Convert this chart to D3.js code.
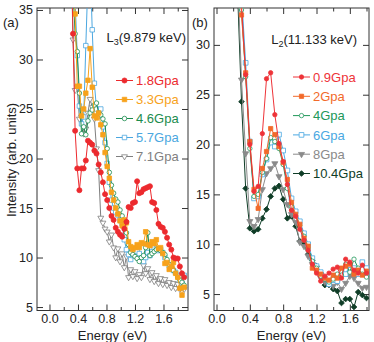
<!DOCTYPE html>
<html>
<head>
<meta charset="utf-8">
<script src="https://cdnjs.cloudflare.com/ajax/libs/d3/7.8.5/d3.min.js"></script>
<style>
body { margin: 0; background: #fff; }
svg { font-family: "Liberation Sans", Arial, sans-serif; }
</style>
</head>
<body>
<div id="chart"></div>
<script>
// panel (a) : L3 edge
var energyA = [0.30,0.33,0.36,0.39,0.42,0.45,0.48,0.51,0.54,0.57,0.60,0.63,0.66,0.69,0.72,0.75,0.78,0.81,0.84,0.87,
               0.90,0.93,0.96,0.99,1.02,1.05,1.08,1.11,1.14,1.17,1.20,1.23,1.26,1.29,1.32,1.35,1.38,1.41,1.44,1.47,
               1.50,1.53,1.56,1.59,1.62,1.65,1.68,1.71,1.74,1.77,1.80,1.83,1.86,1.89];
var gpa18 = [44,32.6,22.8,19.0,16.8,19.0,19.0,19.8,21.8,21.6,21.4,20.8,20.5,19.4,18.6,17.6,16.4,15.8,15.0,14.2,
             13.8,13.0,12.6,12.3,12.1,12.9,13.6,15.1,15.0,15.5,15.6,17.7,16.5,16.6,16.9,17.0,17.1,17.2,15.6,15.5,
             14.8,13.4,13.1,13.0,12.6,12.0,11.3,10.8,10.0,9.9,9.9,9.1,8.4,8.0];
var gpa33 = [48,40,34.6,27.3,27.3,24.3,25.0,26.6,27.9,31.1,27.2,24.3,24.1,24.6,23.4,22.4,20.6,19.2,18.0,16.6,
             15.8,15.0,14.4,13.7,13.2,13.8,13.5,11.6,11.1,10.8,11.0,11.3,11.0,11.5,11.4,12.6,11.3,11.2,11.6,11.4,
             11.8,10.9,11.0,10.4,9.4,9.5,8.8,9.1,9.5,8.4,8.0,6.9,6.2,7.0];
var gpa46 = [45,37,32.6,30.8,26.6,22.5,23.2,22.4,23.8,24.6,24.9,25.4,25.6,24.6,24.4,24.0,23.5,21.0,18.6,17.3,
             16.5,15.9,15.6,14.8,14.2,13.6,12.5,11.3,10.5,10.3,10.1,9.9,9.6,10.0,10.2,11.0,12.5,10.2,10.4,10.6,
             10.8,10.9,10.7,10.5,10.3,9.8,9.3,9.0,8.7,8.4,8.0,7.7,7.5,7.2];
var gpa57 = [50,42,36,30.4,25.3,23.5,24.2,31.4,38,40,33.0,27.6,25.0,24.3,25.0,23.2,21.6,19.5,17.6,15.8,
             15.0,14.6,14.3,13.8,13.4,11.8,10.8,10.3,9.8,10.2,10.5,10.6,10.4,9.9,9.6,10.0,10.5,10.2,10.6,11.0,
             10.9,10.7,10.8,10.5,10.0,9.5,9.2,8.9,8.7,8.5,8.2,8.0,7.4,8.2];
var gpa71 = [42,32,26.9,27.2,24.0,24.2,22.5,23.0,24.6,26.0,25.2,24.0,21.0,18.8,14.0,13.5,12.9,12.6,11.6,12.3,
             11.0,10.0,10.9,9.6,10.4,9.0,10.1,8.0,8.8,8.1,8.6,7.9,8.3,8.0,9.2,8.4,8.9,7.8,8.5,7.6,
             8.2,7.4,7.9,7.3,7.8,7.2,7.5,7.0,7.4,6.9,7.3,6.8,7.0,6.8];
var labelsA = ['1.8Gpa','3.3Gpa','4.6Gpa','5.7Gpa','7.1Gpa'];

// panel (b) : L2 edge
var energyB = [0.25,0.30,0.35,0.40,0.45,0.50,0.55,0.60,0.65,0.70,0.75,0.80,0.85,0.90,0.95,1.00,
               1.05,1.10,1.15,1.20,1.25,1.30,1.35,1.40,1.45,1.50,1.55,1.60,1.65,1.70,1.75,1.80];
var gpa09 = [42,34,27,20,15.3,15.8,21.1,26.6,27.2,23.0,20.1,18.3,16.0,13.4,12.8,11.5,
             10.4,9.4,8.0,7.1,6.3,6.8,7.1,7.5,7.7,6.6,8.5,8.2,7.4,7.1,7.9,7.1];
var gpa2 = [40,33,27.2,20.3,15.5,13.6,17.6,19.3,21.6,21.0,19.8,18.2,16.5,14.2,13.0,12.0,
            10.6,9.8,7.6,7.4,7.0,6.6,6.4,6.9,6.6,7.6,7.8,8.0,7.0,7.4,6.9,7.3];
var gpa4 = [41,33.5,26.8,19.6,14.8,15.0,17.2,18.6,20.7,20.3,19.6,18.0,15.6,13.8,12.9,11.9,
            10.8,9.6,8.3,7.6,6.8,6.5,6.2,6.5,7.0,6.9,8.0,7.2,8.5,7.6,7.0,6.7];
var gpa6 = [43,35,28.2,20.3,14.6,14.8,17.0,18.5,20.2,19.8,21.0,19.4,17.4,14.6,13.3,12.3,
            11.1,10.0,8.6,7.8,7.2,6.6,6.0,6.4,6.3,7.3,7.0,7.9,7.6,7.0,8.2,7.6];
var gpa8 = [38,26.5,19.1,12.3,11.8,12.5,15.5,17.1,17.6,18.1,16.8,15.5,14.0,13.0,12.2,10.2,
            9.8,8.8,8.0,7.3,6.6,6.2,6.0,5.8,6.2,5.5,6.1,6.8,6.6,6.1,5.6,5.7];
var gpa104 = [36,24.3,15.6,11.6,11.3,11.5,12.6,13.5,14.8,15.6,15.85,14.5,12.6,12.8,11.8,10.3,
              10.0,9.0,8.4,7.8,7.1,5.9,5.9,5.5,5.3,4.1,4.5,4.5,3.7,5.2,4.9,4.6];
var labelsB = ['0.9Gpa','2Gpa','4Gpa','6Gpa','8Gpa','10.4Gpa'];

var xTicks = [0, 0.4, 0.8, 1.2, 1.6];
var xMinorTicks = [0.2, 0.6, 1.0, 1.4, 1.8];
var yTicks = [5, 10, 15, 20, 25, 30, 35];

var svg = d3.select('#chart').append('svg')
            .attr('width', 374)
            .attr('height', 342);

var symbolType = {circle: d3.symbolCircle, square: d3.symbolSquare, triangle: d3.symbolTriangle, diamond: d3.symbolSquare};
var symbolTurn = {circle: 0, square: 0, triangle: 180, diamond: 45};

var drawMarker = function(g, s, x, y){
    g.append('path')
        .attr('d', d3.symbol().type(symbolType[s.shape]).size(s.size)())
        .attr('transform', 'translate(' + x + ',' + y + ') rotate(' + symbolTurn[s.shape] + ')')
        .attr('fill', s.filled ? s.color : '#fff')
        .attr('stroke', s.color)
        .attr('stroke-width', 0.8);
};

var drawPanel = function(p){
    var x = d3.scaleLinear().domain(p.xDomain).range([p.left, p.right]);
    var y = d3.scaleLinear().domain(p.yDomain).range([p.bottom, p.top]);
    var g = svg.append('g');

    g.append('clipPath').attr('id', 'clip' + p.id)
        .append('rect')
        .attr('x', p.left).attr('y', p.top)
        .attr('width', p.right - p.left).attr('height', p.bottom - p.top);

    // axes, ticks pointing inside
    var mk = function(axis, tr, vals, size, fmt){
        var a = g.append('g').attr('transform', tr)
            .call(axis.tickValues(vals).tickSize(size).tickPadding(4).tickFormat(fmt));
        a.select('.domain').remove();
        a.selectAll('line').attr('stroke', '#333');
        a.selectAll('text').attr('font-size', 12.5).attr('fill', '#222').attr('font-family', '"Liberation Sans", Arial, sans-serif');
        return a;
    };
    var f1 = d3.format('.1f');
    var minor = xMinorTicks.filter(function(v){ return v <= p.xDomain[1]; });
    mk(d3.axisBottom(x), 'translate(0,' + p.bottom + ')', xTicks, -6, f1);
    mk(d3.axisBottom(x), 'translate(0,' + p.bottom + ')', minor, -3.5, '');
    mk(d3.axisTop(x), 'translate(0,' + p.top + ')', xTicks, -6, '');
    mk(d3.axisTop(x), 'translate(0,' + p.top + ')', minor, -3.5, '');
    var yt = yTicks.filter(function(v){ return v <= p.yDomain[1]; });
    mk(d3.axisLeft(y), 'translate(' + p.left + ',0)', yt, -6, d3.format('d'));
    mk(d3.axisRight(y), 'translate(' + p.right + ',0)', yt, -6, '');

    g.append('rect')
        .attr('x', p.left).attr('y', p.top)
        .attr('width', p.right - p.left).attr('height', p.bottom - p.top)
        .attr('fill', 'none').attr('stroke', '#333').attr('stroke-width', 1);

    var plot = g.append('g').attr('clip-path', 'url(#clip' + p.id + ')');
    var line = d3.line().x(function(d){ return x(d[0]); }).y(function(d){ return y(d[1]); });

    p.series.slice().reverse().forEach(function(s){
        var pts = p.energy.map(function(e, i){ return [e, s.values[i]]; });
        var sg = plot.append('g');
        sg.append('path').datum(pts)
            .attr('d', line)
            .attr('fill', 'none')
            .attr('stroke', s.color)
            .attr('stroke-width', 1);
        pts.forEach(function(d){ drawMarker(sg, s, x(d[0]), y(d[1])); });
    });

    // legend
    p.series.forEach(function(s, i){
        var ly = p.legendY + i * p.legendStep;
        g.append('line')
            .attr('x1', p.legendX).attr('x2', p.legendX + 17)
            .attr('y1', ly).attr('y2', ly)
            .attr('stroke', s.color).attr('stroke-width', 1);
        drawMarker(g, s, p.legendX + 8.5, ly);
        g.append('text')
            .attr('x', p.legendX + 20).attr('y', ly + 4.6)
            .attr('font-size', 13)
            .attr('fill', s.color)
            .text(s.name);
    });

    // edge label
    var t = g.append('text')
        .attr('x', p.edgeX).attr('y', p.edgeY)
        .attr('text-anchor', 'end')
        .attr('font-size', 13)
        .attr('fill', '#222');
    t.append('tspan').text('L');
    t.append('tspan').attr('font-size', 9).attr('dy', 3).text(p.edgeSub);
    t.append('tspan').attr('dy', -3).text(p.edgeText);

    g.append('text')
        .attr('x', p.tagX).attr('y', 27)
        .attr('font-size', 13).attr('fill', '#222')
        .text(p.tag);

    g.append('text')
        .attr('x', (p.left + p.right) / 2).attr('y', 339.5)
        .attr('text-anchor', 'middle')
        .attr('font-size', 13).attr('fill', '#222')
        .text('Energy (eV)');
};

drawPanel({
    id: 'a', left: 37, right: 188, top: 8, bottom: 310.5,
    xDomain: [-0.175, 1.944], yDomain: [4.65, 35.2],
    energy: energyA,
    series: [
        {name: labelsA[0], values: gpa18, color: '#ec2a2e', shape: 'circle', filled: true, size: 20},
        {name: labelsA[1], values: gpa33, color: '#f7a21b', shape: 'square', filled: true, size: 20},
        {name: labelsA[2], values: gpa46, color: '#1b8c4e', shape: 'circle', filled: false, size: 16},
        {name: labelsA[3], values: gpa57, color: '#4ba7e0', shape: 'square', filled: false, size: 20},
        {name: labelsA[4], values: gpa71, color: '#7f7f7f', shape: 'triangle', filled: false, size: 15}
    ],
    legendX: 116, legendY: 80.5, legendStep: 19,
    edgeX: 186, edgeY: 42, edgeSub: '3', edgeText: '(9.879 keV)',
    tag: '(a)', tagX: 3
});

drawPanel({
    id: 'b', left: 214, right: 369, top: 8, bottom: 310.5,
    xDomain: [-0.03, 1.83], yDomain: [3.35, 33.7],
    energy: energyB,
    series: [
        {name: labelsB[0], values: gpa09, color: '#ee3338', shape: 'circle', filled: true, size: 15},
        {name: labelsB[1], values: gpa2, color: '#f26a2a', shape: 'square', filled: true, size: 18},
        {name: labelsB[2], values: gpa4, color: '#21985a', shape: 'circle', filled: false, size: 15},
        {name: labelsB[3], values: gpa6, color: '#4aa8e2', shape: 'square', filled: false, size: 22},
        {name: labelsB[4], values: gpa8, color: '#8a8a8a', shape: 'triangle', filled: true, size: 16},
        {name: labelsB[5], values: gpa104, color: '#0f3d27', shape: 'diamond', filled: true, size: 16}
    ],
    legendX: 293, legendY: 77, legendStep: 19.3,
    edgeX: 357, edgeY: 44, edgeSub: '2', edgeText: '(11.133 keV)',
    tag: '(b)', tagX: 192
});

// shared y title
svg.append('text')
    .attr('transform', 'translate(15.5,160) rotate(-90)')
    .attr('text-anchor', 'middle')
    .attr('font-size', 13)
    .attr('fill', '#222')
    .text('Intensity (arb. units)');
</script>
</body>
</html>
